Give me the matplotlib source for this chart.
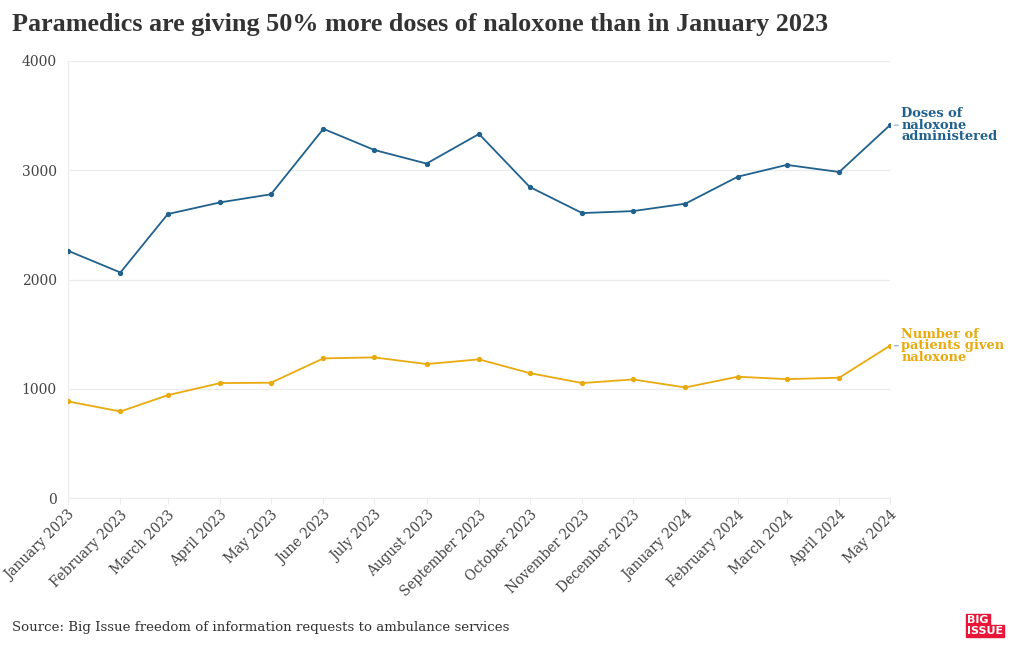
import matplotlib
matplotlib.use("Agg")
import matplotlib.pyplot as plt
import datetime as dt

months = ["January 2023", "February 2023", "March 2023", "April 2023", "May 2023",
          "June 2023", "July 2023", "August 2023", "September 2023", "October 2023",
          "November 2023", "December 2023", "January 2024", "February 2024",
          "March 2024", "April 2024", "May 2024"]
doses = [2263, 2064, 2599, 2706, 2780, 3379, 3186, 3061, 3332, 2847,
         2608, 2626, 2694, 2941, 3049, 2984, 3413]
patients = [884, 792, 941, 1052, 1055, 1278, 1287, 1226, 1269, 1143,
            1052, 1085, 1012, 1110, 1088, 1101, 1394]
yticks = [0, 1000, 2000, 3000, 4000]

title = "Paramedics are giving 50% more doses of naloxone than in January 2023"
source = "Source: Big Issue freedom of information requests to ambulance services"
label_doses = "Doses of\nnaloxone\nadministered"
label_patients = "Number of\npatients given\nnaloxone"

BLUE = "#20618d"
YELLOW = "#e9aa0f"
GRID = "#ebebeb"
TEXT = "#444444"
SERIF = ["DejaVu Serif"]
RED = "#e8173a"

dates = [dt.datetime.strptime(m, "%B %Y") for m in months]

fig = plt.figure(figsize=(10.2, 6.5), dpi=100)
ax = fig.add_axes([68/1020, 1-498/650, (890-68)/1020, (498-61)/650])

ax.plot(dates, doses, color=BLUE, lw=1.3, marker="o", ms=2.8, zorder=3)
ax.plot(dates, patients, color=YELLOW, lw=1.3, marker="o", ms=2.8, zorder=3)

ax.set_xlim(dates[0], dates[-1])
ax.set_ylim(0, 4000)
ax.set_yticks(yticks)
ax.set_yticklabels([str(v) for v in yticks], fontfamily=SERIF, fontsize=10, color=TEXT)
ax.set_xticks(dates)
ax.set_xticklabels(months, rotation=45, ha="right", rotation_mode="anchor",
                   fontfamily=SERIF, fontsize=9.8, color=TEXT)
ax.tick_params(axis="x", length=4, color=GRID, pad=3)
ax.tick_params(axis="y", length=0, pad=8)
ax.grid(axis="y", color=GRID, lw=0.9)
ax.set_axisbelow(True)
for s in ["top", "right"]:
    ax.spines[s].set_visible(False)
ax.spines["left"].set_color(GRID)
ax.spines["bottom"].set_color(GRID)

# End labels
for vals, lab, col in [(doses, label_doses, BLUE), (patients, label_patients, YELLOW)]:
    ax.annotate(lab, xy=(dates[-1], vals[-1]), xytext=(8, 0), textcoords="offset points",
                ha="left", va="center", fontfamily=SERIF, fontsize=9.4, fontweight="bold",
                color=col, linespacing=0.85, annotation_clip=False)
    ax.annotate("", xy=(dates[-1], vals[-1]), xytext=(6, 0), textcoords="offset points",
                arrowprops=dict(arrowstyle="-", color="#8aaac4", lw=0.8, shrinkA=0, shrinkB=3),
                annotation_clip=False)

fig.text(12/1020, 1-24/650, title, ha="left", va="center", fontfamily=["Liberation Serif"],
         fontsize=18.8, fontweight="bold", color="#333333")
fig.text(12/1020, 1-627/650, source, ha="left", va="center", fontfamily=SERIF,
         fontsize=9.6, color="#333333")

# Logo
fig.text(967/1020, 1-620/650, "BIG", ha="left", va="center", fontsize=8, fontweight="bold",
         color="white", family="DejaVu Sans",
         bbox=dict(boxstyle="square,pad=0.12", fc=RED, ec=RED))
fig.text(967/1020, 1-631/650, "ISSUE", ha="left", va="center", fontsize=8, fontweight="bold",
         color="white", family="DejaVu Sans",
         bbox=dict(boxstyle="square,pad=0.12", fc=RED, ec=RED))

fig.savefig("out.png", dpi=100)
